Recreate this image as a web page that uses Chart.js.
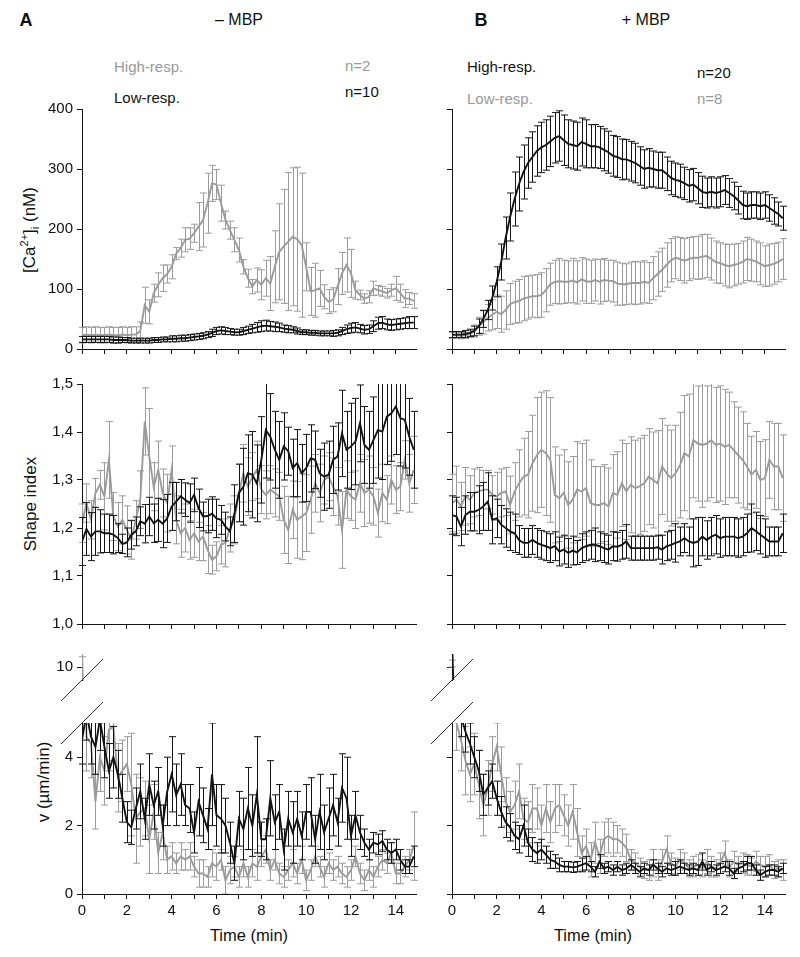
<!DOCTYPE html>
<html>
<head>
<meta charset="utf-8">
<script src="https://cdn.jsdelivr.net/npm/chart.js@4.4.1/dist/chart.umd.min.js"></script>
<style>
  body { margin: 0; background: #fff; font-family: "Liberation Sans", Arial, sans-serif; }
  #page { position: relative; width: 800px; height: 957px; overflow: hidden; }
  canvas { position: absolute; }
  .t { position: absolute; white-space: nowrap; font-size: 15px; color: #111; line-height: 1; transform: translateY(-50%); }
  .c { position: absolute; white-space: nowrap; color: #111; line-height: 1; transform: translate(-50%, -50%); }
  .yl { position: absolute; white-space: nowrap; color: #111; font-size: 17px; line-height: 1; transform: translate(-50%, -50%) rotate(-90deg); }
  .gray { color: #999; }
  sup, sub { font-size: 11px; }
</style>
</head>
<body>
<div id="page">
  <div class="c" style="left:26px;top:20px;font-size:18px;font-weight:bold">A</div>
  <div class="c" style="left:239px;top:20px;font-size:16px">– MBP</div>
  <div class="c" style="left:481px;top:20px;font-size:18px;font-weight:bold">B</div>
  <div class="c" style="left:646px;top:20px;font-size:16px">+ MBP</div>

  <div class="t gray" style="left:114px;top:66px">High-resp.</div>
  <div class="t gray" style="left:345px;top:65px">n=2</div>
  <div class="t" style="left:114px;top:97px">Low-resp.</div>
  <div class="t" style="left:345px;top:91px">n=10</div>
  <div class="t" style="left:467px;top:66px">High-resp.</div>
  <div class="t" style="left:697px;top:72px">n=20</div>
  <div class="t gray" style="left:467px;top:98px">Low-resp.</div>
  <div class="t gray" style="left:697px;top:98px">n=8</div>

  <div class="yl" style="left:30px;top:230px">[Ca<sup>2+</sup>]<sub>i</sub> (nM)</div>
  <div class="yl" style="left:30px;top:504px">Shape index</div>
  <div class="yl" style="left:43px;top:782px">v (µm/min)</div>
  <div class="c" style="left:249px;top:935px;font-size:16.5px">Time (min)</div>
  <div class="c" style="left:593px;top:935px;font-size:16.5px">Time (min)</div>

  <canvas id="caA"></canvas>
  <canvas id="caB"></canvas>
  <canvas id="shA"></canvas>
  <canvas id="shB"></canvas>
  <canvas id="vA"></canvas>
  <canvas id="vB"></canvas>
  <canvas id="vAtop"></canvas>
  <canvas id="vBtop"></canvas>
</div>
<script>
// time points (min)
var time = [0,0.2,0.4,0.6,0.8,1,1.2,1.4,1.6,1.8, 2,2.2,2.4,2.6,2.8,3,3.2,3.4,3.6,3.8,
  4,4.2,4.4,4.6,4.8,5,5.2,5.4,5.6,5.8, 6,6.2,6.4,6.6,6.8,7,7.2,7.4,7.6,7.8,
  8,8.2,8.4,8.6,8.8,9,9.2,9.4,9.6,9.8, 10,10.2,10.4,10.6,10.8,11,11.2,11.4,11.6,11.8,
  12,12.2,12.4,12.6,12.8,13,13.2,13.4,13.6,13.8, 14,14.2,14.4,14.6,14.8];
var timeTicks = [0,1,2,3,4,5,6,7,8,9,10,11,12,13,14];
var caTicks = [0,100,200,300,400];
var shapeTicks = [1.0,1.1,1.2,1.3,1.4,1.5];
var speedTicks = [0,2,4];
var speedBreakTicks = [10];

// [Ca2+]i, - MBP
var caMinusHigh = [23,24,23,24,23,23,24,23,23,24, 23,24,24,30,73,62,93,107,118,125,
  137,159,168,182,184,193,204,215,243,276, 274,243,215,198,182,165,137,118,104,115,
  107,118,109,137,162,171,179,187,183,173, 137,96,98,101,87,79,82,104,126,140,
  126,98,90,84,87,101,98,96,93,98, 101,93,84,84,80];
var caMinusHighErr = [13,13,13,13,13,13,13,13,13,13, 13,13,13,15,30,20,15,20,22,15,
  20,10,15,20,18,15,40,45,50,30, 25,30,15,15,20,20,12,15,12,20,
  25,30,45,60,80,95,115,115,120,120, 40,40,45,30,20,20,20,30,35,45,
  40,15,8,8,10,12,8,8,8,10, 20,15,15,10,12];
var caMinusLow = [16,16,16,16,16,16,16,15,15,15, 15,14,14,14,14,14,15,15,16,16,
  17,17,18,18,19,20,21,22,24,27, 30,31,30,29,28,28,30,32,34,36,
  38,39,38,37,36,34,33,32,30,28, 28,27,27,26,26,26,26,27,30,33,
  35,36,34,32,33,38,43,44,41,40, 41,42,43,44,44];
var caMinusLowErr = [5,5,5,5,5,5,5,5,5,4, 4,4,4,4,4,4,4,4,4,4,
  5,5,5,5,5,5,5,5,5,6, 6,6,6,5,5,5,6,6,7,8,
  9,9,8,8,7,6,6,5,5,4, 4,4,4,4,4,4,5,5,6,7,
  8,8,7,7,7,9,10,10,9,9, 9,9,9,10,10];

// [Ca2+]i, + MBP
var caPlusHigh = [24,24,24,25,27,30,38,50,65,85, 112,145,185,220,250,275,295,310,320,330,
  336,340,346,352,355,348,342,340,338,345, 342,338,338,336,332,328,322,320,316,316,
  313,310,305,300,302,300,298,298,292,285, 282,280,276,272,274,268,262,260,262,260,
  262,265,260,255,248,240,238,240,240,238, 240,235,230,225,218];
var caPlusHighErr = [5,5,5,6,6,8,12,14,16,20, 25,30,35,40,45,45,45,42,42,42,
  42,42,42,42,42,42,40,40,40,40, 40,36,36,35,35,35,34,34,34,33,
  33,33,32,32,32,30,30,30,28,28, 28,28,27,27,27,26,26,25,25,25,
  25,24,24,23,23,23,22,22,22,22, 22,22,22,20,20];
var caPlusLow = [23,23,22,23,25,30,38,45,52,57, 62,58,65,75,78,80,84,86,88,88,
  90,98,108,112,113,112,112,114,111,116, 113,112,115,112,115,114,113,109,108,108,
  110,110,110,112,110,118,125,132,140,148, 152,150,147,150,152,152,154,155,150,145,
  143,140,138,140,142,145,150,148,146,142, 138,140,142,145,150];
var caPlusLowErr = [5,5,5,5,6,10,15,20,22,25, 28,30,32,34,35,36,37,36,35,36,
  37,36,35,36,38,36,35,37,36,36, 37,36,35,37,36,34,35,36,35,34,
  35,36,35,35,34,36,37,36,37,36, 35,36,37,36,35,36,37,36,35,35,
  34,35,36,35,34,35,36,35,34,35, 34,35,34,33,34];

// shape index, - MBP
var shapeMinusHigh = [1.210,1.252,1.217,1.273,1.290,1.266,1.342,1.224,1.203,1.217,
  1.196,1.175,1.217,1.259,1.422,1.349,1.286,1.321,1.273,1.252,
  1.321,1.217,1.189,1.200,1.175,1.189,1.172,1.182,1.155,1.134,
  1.141,1.165,1.169,1.200,1.217,1.273,1.314,1.286,1.307,1.321,
  1.280,1.269,1.280,1.273,1.266,1.217,1.196,1.238,1.217,1.224,
  1.231,1.259,1.293,1.273,1.300,1.307,1.286,1.266,1.196,1.280,
  1.266,1.259,1.293,1.273,1.280,1.266,1.231,1.273,1.259,1.300,
  1.280,1.286,1.342,1.293,1.321];
var shapeMinusHighErr = [0.04,0.04,0.04,0.03,0.03,0.07,0.08,0.05,0.05,0.05,
  0.05,0.04,0.04,0.06,0.07,0.10,0.05,0.06,0.05,0.06,
  0.05,0.05,0.05,0.05,0.04,0.05,0.04,0.05,0.05,0.03,
  0.03,0.04,0.05,0.05,0.05,0.06,0.06,0.06,0.05,0.06,
  0.05,0.05,0.05,0.05,0.05,0.07,0.07,0.06,0.08,0.09,
  0.08,0.07,0.06,0.06,0.05,0.05,0.06,0.06,0.08,0.06,
  0.05,0.06,0.06,0.07,0.07,0.06,0.05,0.06,0.05,0.05,
  0.05,0.05,0.04,0.06,0.07];
var shapeMinusLow = [1.172,1.198,1.182,1.193,1.193,1.189,1.189,1.186,1.179,1.167,
  1.170,1.186,1.193,1.214,1.209,1.224,1.210,1.217,1.209,1.220,
  1.245,1.255,1.266,1.259,1.252,1.269,1.241,1.224,1.225,1.230,
  1.220,1.217,1.203,1.193,1.230,1.273,1.286,1.314,1.311,1.293,
  1.342,1.404,1.390,1.363,1.342,1.370,1.360,1.325,1.335,1.314,
  1.325,1.345,1.342,1.314,1.307,1.311,1.342,1.349,1.397,1.363,
  1.370,1.380,1.418,1.373,1.363,1.383,1.404,1.401,1.432,1.439,
  1.453,1.429,1.425,1.390,1.363];
var shapeMinusLowErr = [0.05,0.055,0.05,0.05,0.045,0.04,0.04,0.04,0.03,0.02,
  0.03,0.03,0.03,0.03,0.04,0.04,0.04,0.045,0.05,0.05,
  0.05,0.04,0.035,0.035,0.04,0.035,0.04,0.03,0.035,0.035,
  0.04,0.03,0.03,0.03,0.06,0.06,0.08,0.08,0.09,0.08,
  0.09,0.10,0.09,0.08,0.08,0.07,0.05,0.06,0.07,0.06,
  0.07,0.07,0.06,0.05,0.07,0.07,0.07,0.07,0.09,0.08,
  0.09,0.09,0.08,0.08,0.08,0.09,0.10,0.10,0.10,0.10,
  0.10,0.10,0.10,0.08,0.08];

// shape index, + MBP
var shapePlusHigh = [1.227,1.224,1.203,1.227,1.234,1.234,1.238,1.245,1.255,1.217,
  1.220,1.207,1.200,1.193,1.189,1.175,1.169,1.169,1.175,1.169,
  1.165,1.162,1.158,1.162,1.151,1.155,1.148,1.153,1.149,1.158,
  1.162,1.165,1.165,1.162,1.158,1.155,1.162,1.161,1.165,1.172,
  1.158,1.158,1.158,1.158,1.158,1.158,1.160,1.155,1.162,1.165,
  1.169,1.172,1.179,1.172,1.169,1.172,1.182,1.175,1.182,1.186,
  1.179,1.182,1.182,1.182,1.179,1.182,1.189,1.200,1.193,1.186,
  1.179,1.172,1.172,1.172,1.189];
var shapePlusHighErr = [0.04,0.04,0.04,0.04,0.04,0.04,0.05,0.05,0.06,0.05,
  0.04,0.04,0.04,0.04,0.04,0.03,0.03,0.03,0.03,0.03,
  0.03,0.03,0.03,0.03,0.03,0.03,0.03,0.03,0.025,0.03,
  0.03,0.03,0.035,0.03,0.03,0.03,0.03,0.03,0.03,0.035,
  0.025,0.025,0.025,0.025,0.025,0.025,0.025,0.03,0.03,0.03,
  0.04,0.03,0.03,0.03,0.05,0.05,0.04,0.04,0.04,0.04,
  0.04,0.04,0.04,0.04,0.04,0.04,0.04,0.05,0.04,0.04,
  0.04,0.03,0.03,0.03,0.04];
var shapePlusLow = [1.252,1.259,1.245,1.266,1.259,1.273,1.276,1.280,1.280,1.269,
  1.266,1.273,1.276,1.248,1.276,1.293,1.307,1.311,1.335,1.352,
  1.363,1.356,1.342,1.269,1.262,1.273,1.248,1.259,1.280,1.276,
  1.283,1.252,1.248,1.248,1.252,1.245,1.273,1.269,1.293,1.276,
  1.290,1.283,1.287,1.293,1.307,1.300,1.293,1.328,1.314,1.304,
  1.314,1.331,1.356,1.349,1.383,1.376,1.373,1.376,1.383,1.373,
  1.376,1.369,1.373,1.363,1.352,1.342,1.328,1.311,1.321,1.300,
  1.304,1.342,1.328,1.328,1.304];
var shapePlusLowErr = [0.06,0.07,0.05,0.06,0.05,0.05,0.05,0.04,0.04,0.04,
  0.05,0.05,0.05,0.06,0.06,0.07,0.08,0.09,0.10,0.12,
  0.12,0.13,0.13,0.10,0.09,0.09,0.09,0.09,0.10,0.10,
  0.10,0.09,0.08,0.08,0.08,0.08,0.08,0.09,0.09,0.10,
  0.10,0.10,0.10,0.10,0.10,0.10,0.11,0.10,0.10,0.10,
  0.10,0.11,0.12,0.13,0.12,0.12,0.13,0.12,0.12,0.12,
  0.12,0.12,0.11,0.10,0.10,0.10,0.09,0.08,0.08,0.08,
  0.08,0.08,0.09,0.09,0.09];

// speed v (um/min), - MBP
var speedMinusHigh = [10.6,4.6,4.4,2.7,4.0,3.6,4.8,4.9,3.4,3.6,
  3.8,3.2,2.2,2.4,2.5,1.6,2.4,1.2,1.8,1.0,
  1.1,0.9,1.1,1.0,1.1,0.8,0.6,0.6,0.5,0.9,
  0.8,1.0,0.4,0.7,0.8,0.5,0.9,0.5,0.9,0.8,
  1.1,1.3,0.7,1.0,0.6,0.5,0.7,0.9,0.6,1.0,
  0.4,0.7,1.1,0.8,0.5,0.9,0.7,0.8,0.6,0.5,
  0.7,1.1,0.6,0.4,0.7,0.5,0.8,1.0,0.9,1.2,
  0.6,0.6,0.8,1.0,1.4];
var speedMinusHighErr = [0.3,1.0,1.0,0.8,1.0,1.0,1.2,1.0,1.0,0.9,
  0.8,1.5,1.3,1.0,0.8,1.0,0.8,0.6,0.8,0.4,
  0.4,0.3,0.4,0.3,0.4,0.3,0.4,0.4,0.3,0.4,
  0.4,0.3,0.4,0.4,0.3,0.3,0.4,0.3,0.4,0.4,
  0.3,0.4,0.3,0.3,0.3,0.3,0.3,0.4,0.3,0.4,
  0.3,0.3,0.3,0.3,0.3,0.3,0.3,0.3,0.3,0.3,
  0.3,0.3,0.3,0.3,0.3,0.3,0.3,0.3,0.3,0.3,
  0.3,0.3,0.3,0.3,1.0];
var speedMinusLow = [4.5,5.3,4.6,4.3,5.1,4.3,3.6,4.0,3.5,2.8,
  2.1,1.95,2.5,3.0,2.2,3.2,2.6,3.0,2.0,3.0,
  3.5,2.9,3.2,2.6,2.5,1.8,2.7,2.3,1.9,3.5,
  2.3,2.2,2.0,1.5,0.9,2.2,1.9,2.5,2.0,2.9,
  1.6,1.6,2.8,2.1,2.4,1.3,2.2,1.8,2.2,1.7,
  2.4,2.4,1.6,2.4,1.8,2.2,2.6,2.1,3.1,2.8,
  1.7,2.3,1.8,1.5,1.3,1.5,1.45,1.55,1.3,1.2,
  1.3,1.0,0.8,0.8,1.1];
var speedMinusLowErr = [0.7,0.8,0.8,0.8,0.9,0.9,0.8,0.9,0.7,0.7,
  0.6,0.5,0.6,0.8,0.6,0.9,0.7,0.7,0.6,1.0,
  1.1,0.9,0.9,0.6,0.7,0.6,1.0,0.8,0.6,1.5,
  0.9,1.0,0.8,0.6,0.5,0.8,0.9,1.2,0.9,1.7,
  0.5,0.6,1.1,0.8,0.8,0.6,0.8,0.9,0.8,0.7,
  0.8,1.0,0.7,1.1,0.8,0.9,0.9,0.7,1.0,1.2,
  0.6,0.7,0.5,0.4,0.3,0.3,0.3,0.3,0.3,0.3,
  0.3,0.3,0.2,0.2,0.3];

// speed v (um/min), + MBP
var speedPlusHigh = [10.8,6.5,5.2,4.75,4.4,4.0,3.6,2.9,3.1,3.3,
  2.8,2.4,2.1,1.95,1.7,1.6,2.0,1.5,1.3,1.2,
  1.3,1.15,1.0,0.95,0.85,0.8,0.8,0.78,0.8,0.85,
  0.9,0.8,0.65,0.95,0.75,0.8,0.7,0.8,0.7,0.75,
  0.85,0.75,0.65,0.75,0.7,0.85,0.75,0.65,0.75,0.7,
  0.75,0.8,0.75,0.7,0.75,0.7,0.95,0.7,0.8,0.7,
  0.75,0.8,0.75,0.6,0.75,0.8,0.9,0.9,0.7,0.55,
  0.65,0.7,0.7,0.65,0.75];
var speedPlusHighErr = [0.3,0.6,0.6,0.6,0.6,0.6,0.6,0.6,0.5,0.5,
  0.5,0.45,0.45,0.4,0.4,0.4,0.6,0.4,0.35,0.3,
  0.3,0.25,0.25,0.2,0.2,0.15,0.15,0.15,0.15,0.2,
  0.2,0.15,0.15,0.2,0.15,0.15,0.15,0.15,0.15,0.15,
  0.15,0.15,0.15,0.15,0.15,0.15,0.15,0.15,0.15,0.15,
  0.2,0.2,0.15,0.15,0.15,0.15,0.25,0.15,0.15,0.15,
  0.15,0.15,0.2,0.15,0.15,0.15,0.2,0.2,0.15,0.15,
  0.15,0.15,0.15,0.15,0.15];
var speedPlusLow = [10.1,5.0,4.5,3.9,3.5,3.8,3.2,2.6,3.1,3.8,
  4.3,3.5,2.7,2.4,2.6,3.0,2.2,2.1,2.5,2.5,
  2.0,2.5,2.1,2.5,2.6,2.3,2.0,2.4,1.8,1.2,
  1.4,1.0,1.5,1.1,1.6,1.7,1.6,1.6,1.5,1.35,
  1.0,0.9,0.8,0.7,0.7,0.9,0.7,0.95,1.3,0.9,
  0.8,1.0,0.9,0.75,0.8,0.85,0.75,0.95,0.8,0.75,
  0.9,1.2,0.75,0.95,0.85,0.9,0.85,0.8,0.95,0.85,
  0.8,0.85,0.7,0.75,0.7];
var speedPlusLowErr = [0.1,0.8,0.9,1.0,0.8,0.9,1.0,0.9,0.8,0.8,
  0.7,0.8,0.7,0.6,0.7,0.8,0.6,0.6,0.7,0.6,
  0.6,0.7,0.6,0.7,0.6,0.6,0.6,0.8,0.7,0.5,
  0.5,0.5,0.6,0.5,0.5,0.5,0.5,0.4,0.4,0.4,
  0.3,0.3,0.25,0.25,0.3,0.4,0.3,0.35,0.4,0.3,
  0.25,0.3,0.3,0.25,0.3,0.3,0.25,0.35,0.3,0.25,
  0.3,0.35,0.25,0.3,0.25,0.3,0.3,0.25,0.3,0.25,
  0.3,0.3,0.25,0.25,0.3];

var BLACK = '#141414';
var GRAY = '#9b9b9b';

// error bars with caps, clipped to the plot area
var errorBars = {
  id: 'errorBars',
  beforeDatasetDraw: function (chart, args) {
    var ds = chart.data.datasets[args.index];
    if (!ds.errors) return;
    var ctx = chart.ctx, xs = chart.scales.x, ys = chart.scales.y, a = chart.chartArea;
    ctx.save();
    ctx.beginPath();
    ctx.rect(a.left - 5, a.top, a.right - a.left + 10, a.bottom - a.top);
    ctx.clip();
    ctx.strokeStyle = ds.borderColor;
    ctx.lineWidth = 1;
    ctx.beginPath();
    ds.data.forEach(function (p, i) {
      var px = Math.round(xs.getPixelForValue(p.x)) + 0.5;
      var hi = ys.getPixelForValue(p.y + ds.errors[i]);
      var lo = ys.getPixelForValue(p.y - ds.errors[i]);
      ctx.moveTo(px, hi); ctx.lineTo(px, lo);
      ctx.moveTo(px - 3.5, hi); ctx.lineTo(px + 3.5, hi);
      ctx.moveTo(px - 3.5, lo); ctx.lineTo(px + 3.5, lo);
    });
    ctx.stroke();
    ctx.restore();
  }
};

// diagonal axis-break mark
var breakMark = {
  id: 'breakMark',
  afterDraw: function (chart) {
    var where = chart.options.plugins.breakMark.at;
    if (!where) return;
    var a = chart.chartArea, ctx = chart.ctx;
    var y = where === 'top' ? a.top : a.bottom;
    ctx.save();
    ctx.strokeStyle = '#333';
    ctx.lineWidth = 1;
    ctx.beginPath();
    ctx.moveTo(a.left - 21, y + 21);
    ctx.lineTo(a.left + 21, y - 21);
    ctx.stroke();
    ctx.restore();
  }
};

function toPoints(vals) {
  return vals.map(function (v, i) { return { x: time[i], y: v }; });
}

function panel(id, area, y, showX, xLabels, series, brk) {
  var padTop = 25, padRight = 10, yW = 60;
  var xH = showX ? 30 : 0;
  var padBottom = showX ? 0 : 25;
  var canvas = document.getElementById(id);
  var w = area.right - area.left + yW + padRight;
  var h = area.bottom - area.top + padTop + xH + padBottom;
  canvas.width = w; canvas.height = h;
  canvas.style.width = w + 'px'; canvas.style.height = h + 'px';
  canvas.style.left = (area.left - yW) + 'px';
  canvas.style.top = (area.top - padTop) + 'px';

  var datasets = series.map(function (s) {
    return {
      data: toPoints(s.values),
      errors: s.errors,
      borderColor: s.color,
      borderWidth: 1.9,
      pointRadius: 0,
      tension: 0,
      fill: false,
      order: s.color === BLACK ? 0 : 1
    };
  });

  return new Chart(canvas, {
    type: 'line',
    data: { datasets: datasets },
    plugins: [errorBars, breakMark],
    options: {
      responsive: false,
      animation: false,
      devicePixelRatio: 1,
      layout: { padding: { top: padTop, right: padRight, bottom: padBottom, left: 0 } },
      plugins: { legend: { display: false }, tooltip: { enabled: false }, breakMark: { at: brk } },
      scales: {
        x: {
          type: 'linear', min: 0, max: 14.9,
          display: showX,
          afterFit: function (s) { s.height = xH; },
          afterBuildTicks: function (s) { s.ticks = timeTicks.map(function (v) { return { value: v }; }); },
          grid: { drawOnChartArea: false, drawTicks: true, tickLength: 5, color: BLACK },
          border: { display: true, color: BLACK, width: 1 },
          ticks: {
            autoSkip: false, maxRotation: 0, padding: 3, color: '#111',
            font: { family: '"Liberation Sans", Arial, sans-serif', size: 15 },
            callback: function (v) { return xLabels && v % 2 === 0 ? String(v) : ''; }
          }
        },
        y: {
          type: 'linear', min: y.min, max: y.max,
          afterFit: function (s) { s.width = yW; },
          afterBuildTicks: function (s) { s.ticks = y.ticks.map(function (v) { return { value: v }; }); },
          grid: { drawOnChartArea: false, drawTicks: true, tickLength: 5, color: BLACK },
          border: { display: true, color: BLACK, width: 1 },
          ticks: {
            padding: 4, color: '#111',
            font: { family: '"Liberation Sans", Arial, sans-serif', size: 15 },
            callback: function (v) { return y.labels ? y.format(v) : ''; }
          }
        }
      }
    }
  });
}

var plain = function (v) { return String(v); };
var comma = function (v) { return v.toFixed(1).replace('.', ','); };

var A = { left: 82, right: 416 };
var B = { left: 452, right: 785 };
var rowCa = { top: 109, bottom: 349 };
var rowShape = { top: 384, bottom: 624 };
var rowV = { top: 723, bottom: 894 };
var rowVtop = { top: 654, bottom: 680 };

function box(col, row) { return { left: col.left, right: col.right, top: row.top, bottom: row.bottom }; }

panel('caA', box(A, rowCa), { min: 0, max: 400, ticks: caTicks, labels: true, format: plain }, true, false,
  [{ values: caMinusHigh, errors: caMinusHighErr, color: GRAY },
   { values: caMinusLow, errors: caMinusLowErr, color: BLACK }], null);
panel('caB', box(B, rowCa), { min: 0, max: 400, ticks: caTicks, labels: false }, true, false,
  [{ values: caPlusLow, errors: caPlusLowErr, color: GRAY },
   { values: caPlusHigh, errors: caPlusHighErr, color: BLACK }], null);
panel('shA', box(A, rowShape), { min: 1.0, max: 1.5, ticks: shapeTicks, labels: true, format: comma }, true, false,
  [{ values: shapeMinusHigh, errors: shapeMinusHighErr, color: GRAY },
   { values: shapeMinusLow, errors: shapeMinusLowErr, color: BLACK }], null);
panel('shB', box(B, rowShape), { min: 1.0, max: 1.5, ticks: shapeTicks, labels: false }, true, false,
  [{ values: shapePlusLow, errors: shapePlusLowErr, color: GRAY },
   { values: shapePlusHigh, errors: shapePlusHighErr, color: BLACK }], null);
panel('vA', box(A, rowV), { min: 0, max: 5, ticks: speedTicks, labels: true, format: plain }, true, true,
  [{ values: speedMinusHigh, errors: speedMinusHighErr, color: GRAY },
   { values: speedMinusLow, errors: speedMinusLowErr, color: BLACK }], 'top');
panel('vB', box(B, rowV), { min: 0, max: 5, ticks: speedTicks, labels: false }, true, true,
  [{ values: speedPlusLow, errors: speedPlusLowErr, color: GRAY },
   { values: speedPlusHigh, errors: speedPlusHighErr, color: BLACK }], 'top');
panel('vAtop', box(A, rowVtop), { min: 9.62, max: 10.38, ticks: speedBreakTicks, labels: true, format: plain }, false, false,
  [{ values: speedMinusHigh, errors: speedMinusHighErr, color: GRAY },
   { values: speedMinusLow, errors: speedMinusLowErr, color: BLACK }], 'bottom');
panel('vBtop', box(B, rowVtop), { min: 9.62, max: 10.38, ticks: speedBreakTicks, labels: false }, false, false,
  [{ values: speedPlusLow, errors: speedPlusLowErr, color: GRAY },
   { values: speedPlusHigh, errors: speedPlusHighErr, color: BLACK }], 'bottom');
</script>
</body>
</html>
